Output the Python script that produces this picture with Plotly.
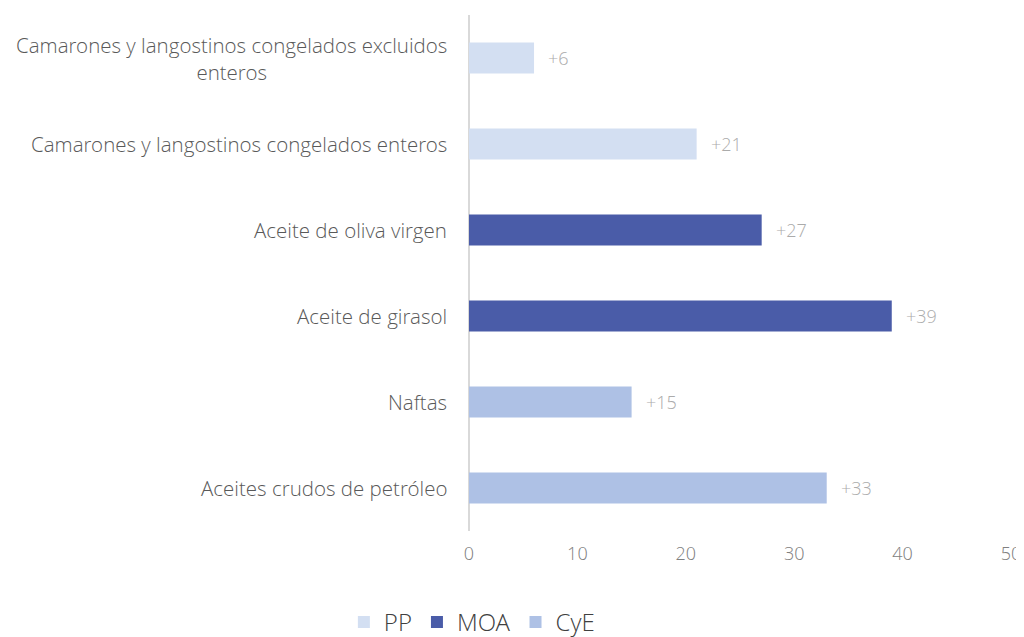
import plotly.graph_objects as go

categories = [
    "Camarones y langostinos congelados excluidos<br>enteros",
    "Camarones y langostinos congelados enteros",
    "Aceite de oliva virgen",
    "Aceite de girasol",
    "Naftas",
    "Aceites crudos de petróleo",
]
groups = ["PP", "PP", "MOA", "MOA", "CyE", "CyE"]
values = [6, 21, 27, 39, 15, 33]
series_names = ["PP", "MOA", "CyE"]
series_colors = {"PP": "#d3dff2", "MOA": "#4a5ca8", "CyE": "#aec1e5"}
x_ticks = [0, 10, 20, 30, 40, 50]

font_family = "Open Sans Light, Lato Light, Open Sans"
fig = go.Figure()
for s in series_names:
    ys = [c for c, g in zip(categories, groups) if g == s]
    xs = [v for v, g in zip(values, groups) if g == s]
    fig.add_trace(go.Bar(
        y=ys, x=xs, name=s, orientation="h",
        marker=dict(color=series_colors[s], line=dict(width=0)),
    ))

for c, v in zip(categories, values):
    fig.add_annotation(
        x=v, xref="x", y=c, yref="y", text=f"+{v}", showarrow=False,
        xanchor="left", xshift=12,
        font=dict(size=18, color="#ababab", family=font_family, weight=300),
    )

for c in categories:
    fig.add_annotation(
        x=0, xref="paper", y=c, yref="y", text=c, showarrow=False,
        xanchor="right", xshift=-20, align="center",
        font=dict(size=20.5, color="#595959", family=font_family, weight=300),
    )

fig.update_layout(
    width=1024, height=637,
    margin=dict(l=461, r=21, t=7, b=114, autoexpand=False),
    paper_bgcolor="white", plot_bgcolor="white",
    barmode="overlay", bargap=0.64,
    showlegend=True,
    legend=dict(
        orientation="h", xref="container", yref="container",
        x=0.453, xanchor="center", y=0.0, yanchor="bottom",
        font=dict(size=24, color="#404040", family=font_family, weight=300),
        itemwidth=30, traceorder="normal", tracegroupgap=0,
    ),
    font=dict(family=font_family),
)
fig.update_xaxes(
    range=[0, 50], tickvals=x_ticks, showgrid=False,
    zeroline=True, zerolinecolor="#d9d9d9", zerolinewidth=2,
    showline=False, tickfont=dict(size=18, color="#808080", family=font_family, weight=300),
    ticklabelstandoff=10, automargin=False,
)
fig.update_yaxes(
    categoryorder="array", categoryarray=categories[::-1],
    showticklabels=False, showgrid=False, showline=False, zeroline=False,
    automargin=False,
)
fig.write_html("out.html")
